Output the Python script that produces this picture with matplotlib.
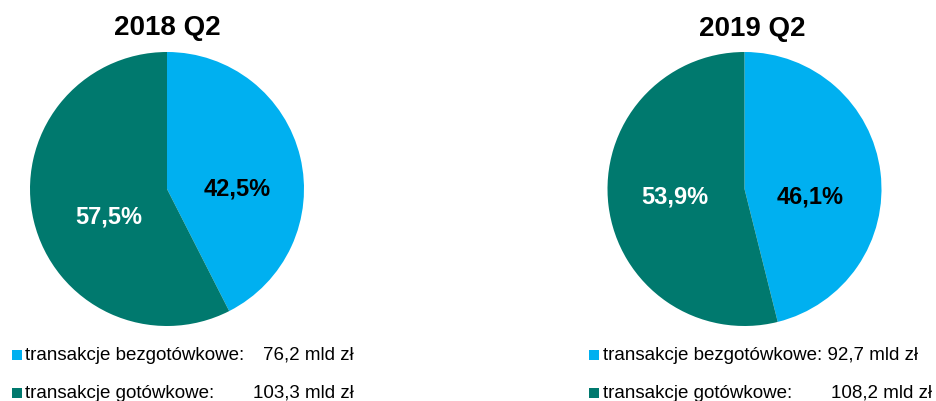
import matplotlib
matplotlib.use("Agg")
import matplotlib.pyplot as plt
from matplotlib.patches import Rectangle

plt.rcParams['font.family'] = ['Liberation Sans', 'DejaVu Sans']

titles = ["2018 Q2", "2019 Q2"]
categories = ["transakcje bezgotówkowe", "transakcje gotówkowe"]
shares_2018 = [42.5, 57.5]
shares_2019 = [46.1, 53.9]
values_2018 = ["76,2", "103,3"]
values_2019 = ["92,7", "108,2"]
colors = ["#00B0F0", "#00796E"]
label_colors = ["black", "white"]

W, H = 936, 401
fig = plt.figure(figsize=(W / 100, H / 100), dpi=100)

R = 137
pies = [
    dict(cx=167, cy=189, shares=shares_2018, title=titles[0], tx=167, ty=35,
         lab=[(0.51, 0.0), (-0.427, -0.204)]),
    dict(cx=744.5, cy=189, shares=shares_2019, title=titles[1], tx=752, ty=36,
         lab=[(0.478, -0.058), (-0.51, -0.058)]),
]

for p in pies:
    ax = fig.add_axes([(p["cx"] - R) / W, (H - p["cy"] - R) / H, 2 * R / W, 2 * R / H])
    ax.pie(p["shares"], colors=colors, startangle=90, counterclock=False, radius=1,
           wedgeprops=dict(linewidth=0))
    ax.set_xlim(-1, 1)
    ax.set_ylim(-1, 1)
    ax.set_aspect('equal')
    ax.axis('off')
    for (x, y), s, c in zip(p["lab"], p["shares"], label_colors):
        ax.text(x, y, f"{s:.1f}%".replace(".", ","), ha='center', va='center',
                fontsize=17, fontweight='bold', color=c)
    fig.text(p["tx"] / W, 1 - p["ty"] / H, p["title"], ha='center', va='baseline',
             fontsize=20, fontweight='bold')

fs = 13.5
# left legend
rows_y = [355, 393]
for i, (cat, val) in enumerate(zip(categories, values_2018)):
    y = rows_y[i]
    fig.patches.append(Rectangle((12 / W, 1 - (y + 5) / H), 10 / W, 10 / H,
                                 transform=fig.transFigure, color=colors[i], lw=0))
    fig.text(25 / W, 1 - y / H, cat + ":", ha='left', va='center', fontsize=fs)
    fig.text(354 / W, 1 - y / H, f"{val} mld zł", ha='right', va='center', fontsize=fs)

# right legend
for i, (cat, val) in enumerate(zip(categories, values_2019)):
    y = rows_y[i]
    fig.patches.append(Rectangle((589 / W, 1 - (y + 5) / H), 10 / W, 10 / H,
                                 transform=fig.transFigure, color=colors[i], lw=0))
    if i == 0:
        fig.text(603 / W, 1 - y / H, f"{cat}: {val} mld zł", ha='left', va='center', fontsize=fs)
    else:
        fig.text(603 / W, 1 - y / H, cat + ":", ha='left', va='center', fontsize=fs)
        fig.text(932 / W, 1 - y / H, f"{val} mld zł", ha='right', va='center', fontsize=fs)

fig.savefig("out.png", dpi=100)
